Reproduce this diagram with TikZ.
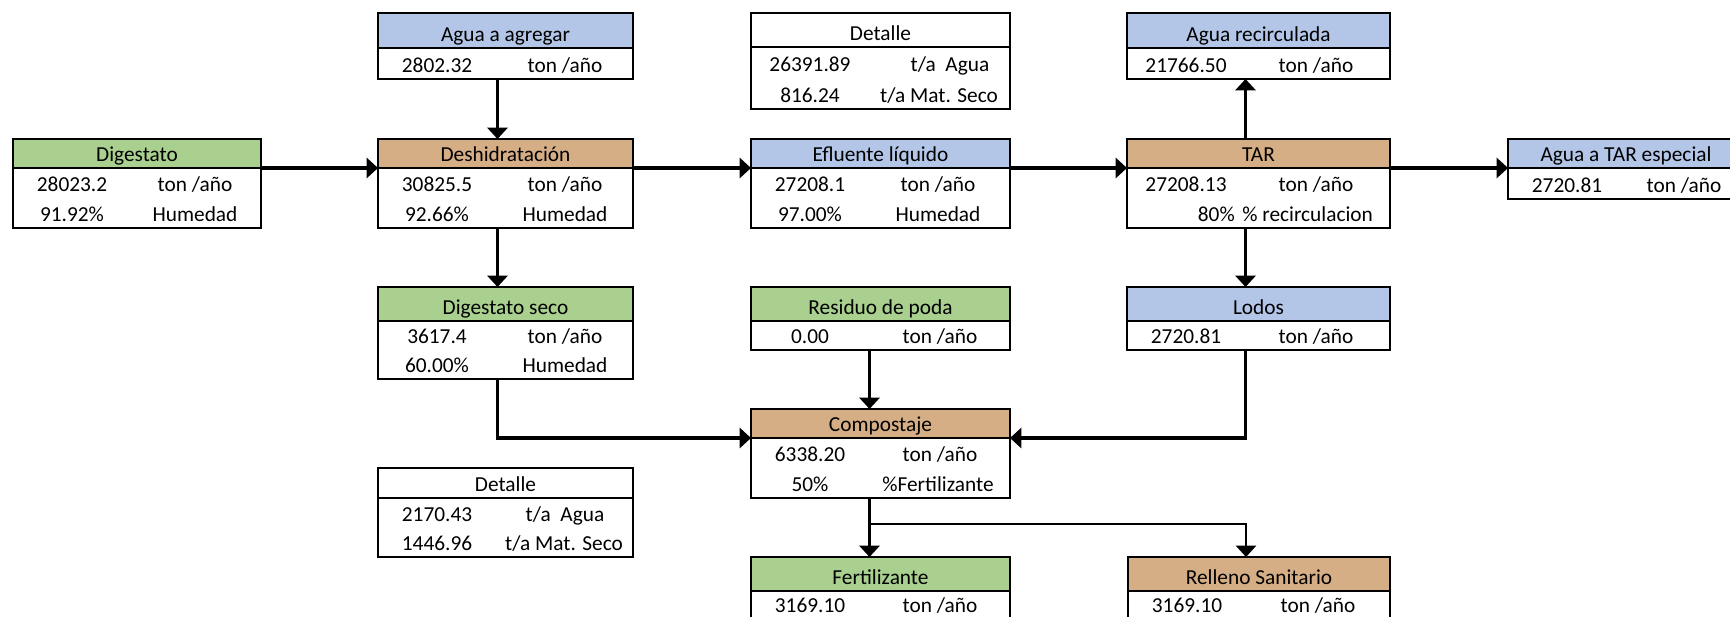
\documentclass[tikz,border=0pt]{standalone}
\usepackage{fontspec}
\setmainfont{Carlito}
\usetikzlibrary{arrows.meta,calc}

\definecolor{hgreen}{RGB}{169,208,142}
\definecolor{hblue}{RGB}{180,198,231}
\definecolor{htan}{RGB}{214,174,134}

\tikzset{
  cell/.style={draw=black, line width=1.9pt, anchor=north west,
               inner sep=0pt, outer sep=0pt},
  txt/.style={inner sep=0pt, anchor=base, font=\fontsize{16}{19}\selectfont},
  flow/.style={line width=2.3pt, -{Triangle[width=15pt,length=8.5pt]}},
}

% header cell: name, x, y (top left, px), width, height, fill, title
\newcommand\hcell[7]{%
  \node[cell,fill=#6,minimum width={#4*0.75pt},minimum height={#5*0.75pt}] (#1) at (#2,#3) {};
  \node[txt] (#1-t) at ($(#1.south)+(0,-6.5)$) {#7};}
% value block under a header: name, header, width, height
\newcommand\bcell[4]{%
  \node[cell,fill=white,minimum width={#3*0.75pt},minimum height={#4*0.75pt}] (#1) at (#2.south west) {};}
% one line of values: block, line id, baseline (px below block top), left text, right offset, right text
\newcommand\rtext[6]{%
  \node[txt] (#1-#2l) at ($(#1.north west)+(59,#3)$) {#4};
  \node[txt] (#1-#2r) at ($(#1.north west)+(#5,#3)$) {#6};}

\begin{document}
\begin{tikzpicture}[x=0.75pt,y=-0.75pt]
\useasboundingbox (0,0) rectangle (1730,617);
\fill[white] (0,0) rectangle (1730,617);
\clip (0,0) rectangle (1730,617);

% --- first line of the process
\hcell{dig}{13}{139}{248}{29}{hgreen}{Digestato}
\bcell{digb}{dig}{248}{60}
\rtext{digb}{1}{23.5}{28023.2}{182}{ton /año}
\rtext{digb}{2}{53.5}{91.92\%}{182}{Humedad}

\hcell{agua}{378}{13}{255}{35}{hblue}{Agua a agregar}
\bcell{aguab}{agua}{255}{31}
\rtext{aguab}{1}{24.5}{2802.32}{187}{ton /año}

\hcell{desh}{378}{139}{255}{29}{htan}{Deshidratación}
\bcell{deshb}{desh}{255}{60}
\rtext{deshb}{1}{23.5}{30825.5}{187}{ton /año}
\rtext{deshb}{2}{53.5}{92.66\%}{187}{Humedad}

\hcell{deta}{751}{13}{259}{34}{white}{Detalle}
\bcell{detab}{deta}{259}{62}
\rtext{detab}{1}{24.5}{26391.89}{199}{t/a\hspace{0.45em}Agua}
\rtext{detab}{2}{55.5}{816.24}{188}{t/a Mat. Seco}

\hcell{efl}{751}{139}{259}{29}{hblue}{Efluente líquido}
\bcell{eflb}{efl}{259}{60}
\rtext{eflb}{1}{23.5}{27208.1}{187}{ton /año}
\rtext{eflb}{2}{53.5}{97.00\%}{187}{Humedad}

\hcell{arec}{1127}{13}{263}{35}{hblue}{Agua recirculada}
\bcell{arecb}{arec}{263}{31}
\rtext{arecb}{1}{24.5}{21766.50}{189}{ton /año}

\hcell{tar}{1127}{139}{263}{29}{htan}{TAR}
\bcell{tarb}{tar}{263}{60}
\rtext{tarb}{1}{23.5}{27208.13}{189}{ton /año}
\node[txt,anchor=base east] (tarb-2l) at ($(tarb.north west)+(108,53.5)$) {80\%};
\node[txt,anchor=base west] (tarb-2r) at ($(tarb.north west)+(115,53.5)$) {\% recirculacion};

\hcell{atar}{1508}{139}{236}{29}{hblue}{Agua a TAR especial}
\bcell{atarb}{atar}{236}{31}
\rtext{atarb}{1}{24.5}{2720.81}{176}{ton /año}

% --- second line
\hcell{dseco}{378}{287}{255}{34}{hgreen}{Digestato seco}
\bcell{dsecob}{dseco}{255}{58}
\rtext{dsecob}{1}{22.5}{3617.4}{187}{ton /año}
\rtext{dsecob}{2}{51.5}{60.00\%}{187}{Humedad}

\hcell{res}{751}{287}{259}{34}{hgreen}{Residuo de poda}
\bcell{resb}{res}{259}{29}
\rtext{resb}{1}{22.5}{0.00}{189}{ton /año}

\hcell{lod}{1127}{287}{263}{34}{hblue}{Lodos}
\bcell{lodb}{lod}{263}{29}
\rtext{lodb}{1}{22.5}{2720.81}{189}{ton /año}

% --- composting and products
\hcell{comp}{751}{409}{259}{29}{htan}{Compostaje}
\bcell{compb}{comp}{259}{60}
\rtext{compb}{1}{23.5}{6338.20}{189}{ton /año}
\rtext{compb}{2}{53.5}{50\%}{187}{\%Fertilizante}

\hcell{detb}{378}{468}{255}{30}{white}{Detalle}
\bcell{detbb}{detb}{255}{59}
\rtext{detbb}{1}{23.5}{2170.43}{187}{t/a\hspace{0.45em}Agua}
\rtext{detbb}{2}{52.5}{1446.96}{186}{t/a Mat. Seco}

\hcell{fert}{751}{557}{259}{34}{hgreen}{Fertilizante}
\bcell{fertb}{fert}{259}{31}
\rtext{fertb}{1}{21.5}{3169.10}{189}{ton /año}

\hcell{rell}{1128}{557}{262}{34}{htan}{Relleno Sanitario}
\bcell{rellb}{rell}{262}{31}
\rtext{rellb}{1}{21.5}{3169.10}{190}{ton /año}

% --- flows
\draw[flow] (dig.south east) -- (desh.south west);
\draw[flow] (desh.south east) -- (efl.south west);
\draw[flow] (efl.south east) -- (tar.south west);
\draw[flow] (tar.south east) -- (atar.south west);
\draw[flow] ($(aguab.south)+(-8,0)$) -- ($(desh.north)+(-8,0)$);
\draw[flow] ($(deshb.south)+(-8,0)$) -- ($(dseco.north)+(-8,0)$);
\draw[flow] ($(tar.north)+(-13,0)$) -- ($(arecb.south)+(-13,0)$);
\draw[flow] ($(tarb.south)+(-13,0)$) -- ($(lod.north)+(-13,0)$);
\draw[flow] ($(dsecob.south)+(-8,0)$) |- (comp.south west);
\draw[flow] ($(resb.south)+(-11,0)$) -- ($(comp.north)+(-11,0)$);
\draw[flow] ($(lodb.south)+(-13,0)$) |- (comp.south east);
\draw[flow] ($(compb.south)+(-11,0)$) -- ($(fert.north)+(-11,0)$);
\coordinate (split) at ($(compb.south)+(-11,26)$);
\draw[flow,line width=1.8pt] (split) -| ($(rell.north)+(-13,0)$);
\end{tikzpicture}
\end{document}
